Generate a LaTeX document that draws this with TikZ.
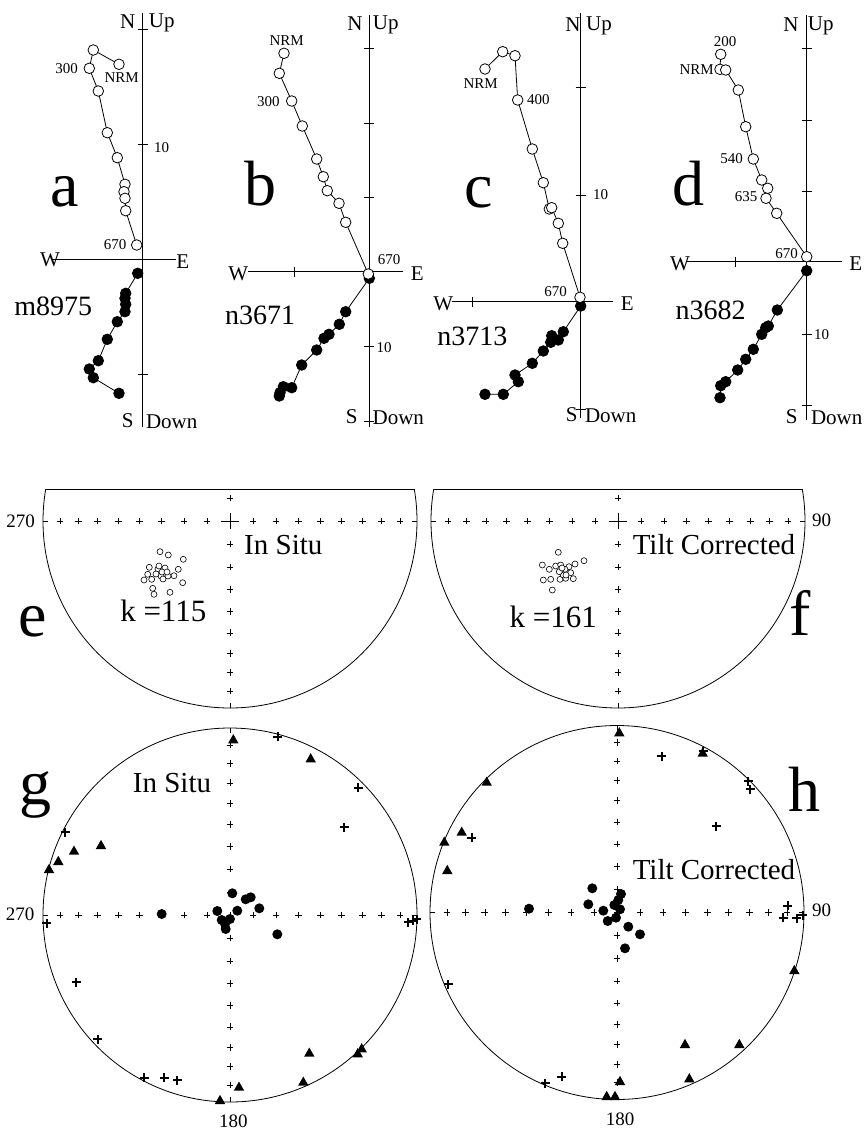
\documentclass[tikz,border=0pt]{standalone}
\usepackage{fontspec}
\setmainfont{Liberation Serif}
\usetikzlibrary{calc}

\tikzset{
  big/.style={font=\fontsize{64}{64}\selectfont},
  smp/.style={font=\fontsize{28}{28}\selectfont},
  ax/.style={font=\fontsize{21}{21}\selectfont},
  num/.style={font=\fontsize{15}{15}\selectfont},
  deg/.style={font=\fontsize{19}{19}\selectfont},
  ttl/.style={font=\fontsize{29}{29}\selectfont},
  kk/.style={font=\fontsize{31}{31}\selectfont},
  opn/.style={mark=*,mark size=5.3pt,mark options={fill=white,line width=0.8pt}},
  ful/.style={mark=*,mark size=5.3pt,mark options={fill=black}},
  tk/.pic={\draw[line width=0.55pt] (-3.3pt,0)--(3.3pt,0) (0,-3.3pt)--(0,3.3pt);},
  bx/.pic={\draw[line width=2.1pt] (-4.5pt,0)--(4.5pt,0) (0,-4.5pt)--(0,4.5pt);},
  tri/.pic={\fill (-5.2pt,-4pt)--(5.2pt,-4pt)--(0,5.2pt)--cycle;},
}

\begin{document}
\begin{tikzpicture}[x=1pt,y=-1pt,line width=0.8pt]
\useasboundingbox (0,0) rectangle (865,1133);

% a
\draw (142.7,13)--(142.7,427);
\draw (52,259.3)--(176,259.3);
\foreach \t in {29.3,144.3,374.3} \draw (137.7,\t)--(147.7,\t);
\draw plot[ful] coordinates {(137.7,273.3)(125.7,293.3)(125,298.3)(125.7,304.3)(125,311.7)(117.3,321.7)(107.3,339.3)(98.3,360.7)(89.3,369)(93.3,377.7)(119,393.3)};
\draw plot[opn] coordinates {(119,64.3)(93.3,50)(89.3,68.3)(98.3,91)(107.3,132.7)(117.3,157.7)(125,184.3)(124,191.7)(125,198.3)(125.7,210.7)(136.7,245)};
\node[ax] (Na) at (127.7,22) {N};
\node[ax] (Ua) at (161.7,23) {Up};
\node[ax] (Sa) at (127.7,421) {S};
\node[ax] (Da) at (171.7,422) {Down};
\node[ax] (Wa) at (50,260) {W};
\node[ax] (Ea) at (182.7,261.7) {E};
\node[num] (ta) at (161.7,147.7) {10};
\node[num] (pa1) at (66.7,68.3) {300};
\node[num] (pa2) at (121.7,77.7) {NRM};
\node[num] (pa3) at (115,245) {670};
\node[big] (la) at (65,191.7) {a};
\node[smp] (sa) at (53.3,306) {m8975};

% b
\draw (369.3,15)--(369.3,427);
\draw (248,271.7)--(402.7,271.7);
\foreach \t in {48.3,123.3,197.7,346.7,421} \draw (364.3,\t)--(374.3,\t);
\draw (294,266.7)--(294,276.7);
\draw plot[ful] coordinates {(369.3,278.3)(345.7,311.7)(339.3,324.3)(329,334.3)(324,338.3)(316.7,350)(301.7,365)(291.7,387.7)(283.3,386.7)(280,392.7)(279.3,396)};
\draw plot[opn] coordinates {(284,53.3)(279.3,73.3)(291.7,101)(302.3,126)(316.7,159)(323.3,176.7)(327.3,190.7)(339,203.3)(345.7,222.3)(368.3,274)};
\node[ax] (Nb) at (355,24) {N};
\node[ax] (Ub) at (385.7,25) {Up};
\node[ax] (Sb) at (351.7,416.7) {S};
\node[ax] (Db) at (398.3,417.7) {Down};
\node[ax] (Wb) at (238.3,274) {W};
\node[ax] (Eb) at (417.3,274) {E};
\node[num] (tb) at (384,347.7) {10};
\node[num] (pb1) at (286.7,40.7) {NRM};
\node[num] (pb2) at (268.3,101.7) {300};
\node[num] (pb3) at (389,260) {670};
\node[big] (lb) at (260.7,184) {b};
\node[smp] (sb) at (260,315) {n3671};

% c
\draw (580.7,13)--(580.7,418);
\draw (451.7,301.7)--(613,301.7);
\foreach \t in {87.3,195,409.3} \draw (575.7,\t)--(585.7,\t);
\draw (472.7,296.7)--(472.7,306.7);
\draw plot[ful] coordinates {(580.7,306)(563.3,331.7)(558.3,340)(551.7,335.7)(550.7,342.3)(543.3,351)(532.3,363.3)(515,375)(518.3,381.7)(503.3,394.3)(485,394.3)};
\draw plot[opn] coordinates {(485,69)(502.7,51.7)(515,55.7)(517.7,100)(532.3,149)(543.3,182.7)(549.3,209)(551.7,207.7)(558.3,223.3)(562.7,243.3)(580,297.3)};
\node[ax] (Nc) at (573,25) {N};
\node[ax] (Uc) at (599,26) {Up};
\node[ax] (Sc) at (571.7,415) {S};
\node[ax] (Dc) at (610.7,416) {Down};
\node[ax] (Wc) at (443.3,304) {W};
\node[ax] (Ec) at (627.3,304) {E};
\node[num] (tc) at (600.7,195) {10};
\node[num] (pc1) at (538.3,100) {400};
\node[num] (pc2) at (480.7,83.3) {NRM};
\node[num] (pc3) at (555.7,291.7) {670};
\node[big] (lc) at (478.3,192.7) {c};
\node[smp] (sc) at (472.3,336.7) {n3713};

% d
\draw (806.7,15)--(806.7,420);
\draw (686.7,261.7)--(841.7,261.7);
\foreach \t in {48.3,120,191,334.3,405} \draw (801.7,\t)--(811.7,\t);
\draw (735.7,256.7)--(735.7,266.7);
\draw plot[ful] coordinates {(806.7,270.7)(777.3,310)(768.3,326)(765.7,327.7)(761.7,334.3)(753.3,349.3)(745.7,359.3)(737.7,370)(725.7,381.7)(720.7,385.7)(720,397.7)};
\draw plot[opn] coordinates {(720.7,54.3)(720,69.3)(725.7,70)(738.3,90)(745.7,126.7)(753.3,159)(761.7,180)(767.7,188.3)(766,198.3)(776.7,213.3)(806.7,256.7)};
\node[ax] (Nd) at (791,25) {N};
\node[ax] (Ud) at (820.7,26) {Up};
\node[ax] (Sd) at (791.7,416.7) {S};
\node[ax] (Dd) at (836.7,417.7) {Down};
\node[ax] (Wd) at (680,264) {W};
\node[ax] (Ed) at (855.7,264) {E};
\node[num] (td) at (821.7,334.3) {10};
\node[num] (pd1) at (725,41.7) {200};
\node[num] (pd2) at (696.7,70) {NRM};
\node[num] (pd3) at (731.7,158.3) {540};
\node[num] (pd4) at (746,196.7) {635};
\node[num] (pd5) at (786.7,253.3) {670};
\node[big] (ld) at (688.3,183.3) {d};
\node[smp] (sd) at (710.7,310) {n3682};

% e, f
\begin{scope}
\clip (0,489) rectangle (865,720);
\foreach \cx in {230,618} {
  \draw (\cx,521) circle[radius=187pt];
  \foreach \a in {10,20,...,80} {
    \pgfmathsetmacro\rr{187*sqrt(2)*sin(\a/2)}
    \pic at ({\cx-\rr},521) {tk};
    \pic at ({\cx+\rr},521) {tk};
    \pic at (\cx,{521-\rr}) {tk};
    \pic at (\cx,{521+\rr}) {tk};
  }
  \draw[line width=0.6pt] ({\cx-9},521)--({\cx+9},521) (\cx,513)--(\cx,529);
  \draw[line width=0.6pt] ({\cx-187},521)--({\cx-182},521) ({\cx+187},521)--({\cx+182},521) (\cx,708)--(\cx,703);
}
\end{scope}
\draw (45.8,489)--(414.2,489) (433.8,489)--(802.2,489);
\foreach \x/\y in {160/551.7,168.3/555,183.3/559.3,149.3/567.3,178.3/569.3,147.7/574.3,174/575.7,144/580,151.7/579.3,182.7/582.7,152.7/588.3,170/592.3,154/594.3,158/569,165/568,161/576,168/576,162/572,156/574,167/572,163/579,159/566}
  \draw[line width=0.6pt,fill=white] (\x,\y) circle[radius=3pt];
\foreach \x/\y in {558.3/552.3,542.3/565,549.3/569.3,555.7/566,560.7/565,569/566.7,575/564,584/560.7,565/569.3,570.7/572.7,543.3/580,550.7/579.3,560/579.3,565.7/578.3,573.3/578.7,552.3/590,563.3/575,559.3/571.7,562/568,566/575}
  \draw[line width=0.6pt,fill=white] (\x,\y) circle[radius=3pt];
\node[deg] (ae) at (20.7,521) {270};
\node[ttl] (ie) at (283.3,545) {In Situ};
\node[kk] (ke) at (163.3,610.7) {k =115};
\node[big] (le) at (32.3,622) {e};
\node[deg] (af) at (821.7,520) {90};
\node[ttl] (tf) at (714,545) {Tilt Corrected};
\node[kk] (kf) at (553.3,617.3) {k =161};
\node[big] (lf) at (800,613.3) {f};

% g, h
\foreach \cx/\cy in {230/915,617/912.5} {
  \draw (\cx,\cy) circle[radius=187pt];
  \foreach \a in {10,20,...,80} {
    \pgfmathsetmacro\rr{187*sqrt(2)*sin(\a/2)}
    \pic at ({\cx-\rr},\cy) {tk};
    \pic at ({\cx+\rr},\cy) {tk};
    \pic at (\cx,{\cy-\rr}) {tk};
    \pic at (\cx,{\cy+\rr}) {tk};
  }
  \pic at (\cx,\cy) {tk};
  \draw[line width=0.6pt] ({\cx-187},\cy)--({\cx-182},\cy) ({\cx+187},\cy)--({\cx+182},\cy)
    (\cx,{\cy-187})--(\cx,{\cy-182}) (\cx,{\cy+187})--(\cx,{\cy+182});
}
% g data
\foreach \x/\y in {232.3/893.3,245.7/899.3,250.7/897.3,217.3/911,237.3/910.7,259.3/908.3,161.7/914,221.7/920,230/919,225.7/929,225/924,277.3/934.3}
  \fill (\x,\y) circle[radius=5pt];
\foreach \x/\y in {277.7/736.7,358.3/787.7,344/827.3,65/832.3,46.7/923.3,76/982.3,97.7/1039.3,144/1077.7,164.3/1077.7,177.3/1080,408.3/922.3,413.3/920.7,416.7/919.3}
  \pic at (\x,\y) {bx};
\foreach \x/\y in {233.3/739.3,310.7/758.3,101/845,74/850.7,58.3/861,49/869,309.3/1052.7,361.7/1048.3,357.7/1053.3,303.3/1081.7,239/1086.7,220/1100}
  \pic at (\x,\y) {tri};
% h data
\foreach \x/\y in {592.3/888.3,621/894,618.3/900,588.3/904.3,614.3/905,529/908.7,603.3/910.7,620/909.3,607.7/921,616/917.7,628.3/926.7,640/934.3,625/948.3}
  \fill (\x,\y) circle[radius=5pt];
\foreach \x/\y in {661.7/756,703.3/751,748.3/781,750/789.3,716/826,471.7/837.7,787.7/905.7,783.3/917.7,796.7/918.3,802.7/915,448.3/984.3,561.7/1076.7,545/1083.3}
  \pic at (\x,\y) {bx};
\foreach \x/\y in {619.3/732.3,702.7/752.7,486.7/781.7,461.7/831.7,444.3/841.7,447.3/870,794.3/970,685/1044,739.3/1044,689.3/1078.3,620/1081,606.7/1096,615/1096}
  \pic at (\x,\y) {tri};
\node[deg] (ag) at (20,914) {270};
\node[deg] (bg) at (233.3,1121) {180};
\node[ttl] (ig) at (172,782.7) {In Situ};
\node[big] (lg) at (35.7,795) {g};
\node[deg] (ah) at (821.7,910.7) {90};
\node[deg] (bh) at (620,1119.5) {180};
\node[ttl] (th) at (714,869.7) {Tilt Corrected};
\node[big] (lh) at (804.7,789) {h};
\end{tikzpicture}
\end{document}
